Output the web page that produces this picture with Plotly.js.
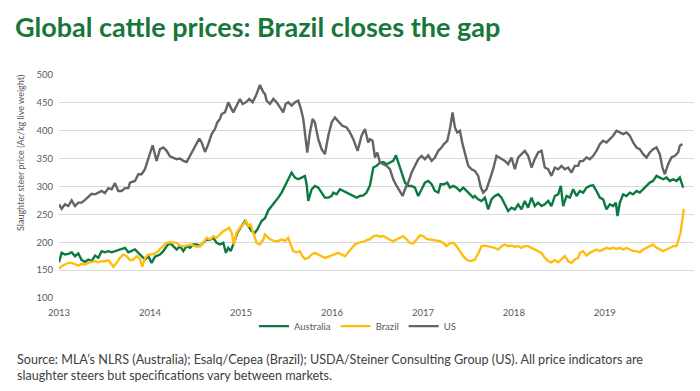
<!DOCTYPE html>
<html><head><meta charset="utf-8">
<script src="https://cdn.plot.ly/plotly-3.0.1.min.js"></script>
<style>html,body{margin:0;padding:0;background:#fff}#chart{width:700px;height:391px}</style>
</head><body><div id="chart"></div>
<script>
// time as decimal years
const usX = [2013.000,2013.029,2013.066,2013.103,2013.139,2013.176,2013.212,2013.249,2013.286,2013.322,2013.359,2013.396,2013.432,2013.469,2013.505,2013.542,2013.579,2013.615,2013.652,2013.689,2013.725,2013.762,2013.780,2013.835,2013.872,2013.908,2013.945,2013.982,2014.029,2014.073,
2014.110,2014.147,2014.183,2014.220,2014.257,2014.293,2014.330,2014.366,2014.403,2014.440,2014.476,2014.513,2014.542,2014.568,2014.605,2014.641,2014.678,2014.714,2014.740,2014.769,2014.788,2014.824,2014.861,2014.887,2014.916,2014.952,2014.989,2015.018,2015.055,2015.092,2015.128,2015.165,2015.209,2015.246,
2015.264,2015.282,2015.319,2015.356,2015.392,2015.429,2015.465,2015.491,2015.520,2015.557,2015.594,2015.630,2015.660,2015.685,2015.711,2015.729,2015.758,2015.788,2015.813,2015.850,2015.887,2015.923,2015.960,2015.997,2016.033,2016.070,2016.114,2016.161,2016.198,2016.235,2016.282,2016.326,2016.363,2016.399,
2016.418,2016.447,2016.473,2016.499,2016.528,2016.565,2016.601,2016.638,2016.674,2016.711,2016.748,2016.777,2016.803,2016.839,2016.876,2016.912,2016.949,2016.986,2017.022,2017.059,2017.096,2017.132,2017.169,2017.205,2017.231,2017.268,2017.297,2017.326,2017.352,2017.378,2017.407,2017.436,2017.462,2017.499,2017.535,
2017.571,2017.608,2017.637,2017.663,2017.699,2017.736,2017.772,2017.809,2017.835,2017.864,2017.901,2017.937,2017.974,2018.011,2018.047,2018.084,2018.120,2018.157,2018.194,2018.230,2018.267,2018.304,2018.340,2018.377,2018.413,2018.450,2018.487,2018.523,2018.560,2018.597,2018.633,2018.670,2018.707,
2018.725,2018.762,2018.798,2018.835,2018.872,2018.908,2018.945,2018.981,2019.018,2019.055,2019.091,2019.128,2019.165,2019.201,2019.238,2019.274,2019.311,2019.348,2019.384,2019.421,2019.458,2019.494,2019.531,2019.568,2019.604,2019.633,2019.659,2019.696,2019.732,2019.769,2019.806,2019.824,2019.853];
const usY = [268,260,268,265,275,265,271,271,276,281,287,286,289,292,288,297,295,306,292,292,297,297,307,310,322,322,331,349,374,346,
367,370,364,354,352,349,350,346,344,355,367,376,386,379,362,376,394,403,415,421,430,433,451,442,433,445,457,448,451,457,451,463,482,469,
466,454,448,457,451,442,433,448,451,445,451,454,439,421,391,361,397,421,415,385,367,358,391,415,424,418,409,406,397,385,364,391,403,379,
385,382,352,361,343,340,337,331,313,301,292,283,295,307,325,337,349,355,349,356,346,352,364,370,376,382,403,433,406,397,400,376,358,337,331,
328,319,298,289,295,313,331,355,352,349,346,340,352,331,352,358,364,355,334,349,361,364,334,331,319,334,331,337,331,334,325,337,337,
345,346,352,349,355,364,376,382,379,385,391,400,397,394,397,391,379,370,367,358,352,361,367,370,358,334,322,340,352,355,361,373,376];

const ausX = [2013.000,2013.029,2013.066,2013.103,2013.139,2013.176,2013.212,2013.249,2013.286,2013.322,2013.359,2013.396,2013.432,2013.469,2013.505,2013.542,2013.579,2013.615,2013.652,2013.689,2013.725,2013.762,2013.798,2013.835,2013.872,2013.908,2013.945,2013.982,2014.018,2014.055,
2014.110,2014.147,2014.183,2014.220,2014.257,2014.293,2014.330,2014.366,2014.403,2014.440,2014.476,2014.513,2014.549,2014.586,2014.623,2014.659,2014.696,2014.733,2014.769,2014.806,2014.835,2014.861,2014.887,2014.923,2014.960,2015.007,2015.044,2015.081,2015.117,2015.154,2015.180,2015.227,
2015.264,2015.300,2015.337,2015.374,2015.410,2015.447,2015.484,2015.520,2015.557,2015.594,2015.630,2015.667,2015.703,2015.722,2015.740,2015.777,2015.813,2015.850,2015.887,2015.923,2015.960,2015.997,2016.015,2016.051,2016.088,2016.125,2016.161,2016.198,2016.235,2016.271,2016.308,2016.345,2016.381,2016.418,
2016.455,2016.491,2016.528,2016.565,2016.601,2016.638,2016.674,2016.704,2016.729,2016.766,2016.803,2016.839,2016.876,2016.912,2016.949,2016.986,2017.022,2017.059,2017.096,2017.132,2017.169,2017.195,2017.231,2017.268,2017.297,2017.334,2017.370,2017.407,2017.444,2017.480,2017.517,2017.553,
2017.571,2017.608,2017.645,2017.681,2017.718,2017.754,2017.791,2017.828,2017.864,2017.901,2017.937,2017.974,2018.011,2018.047,2018.084,2018.120,2018.157,2018.194,2018.230,2018.267,2018.304,2018.340,2018.377,2018.413,2018.450,2018.487,2018.516,2018.542,2018.579,2018.615,2018.652,2018.689,
2018.725,2018.762,2018.798,2018.835,2018.872,2018.908,2018.945,2018.981,2019.018,2019.055,2019.091,2019.121,2019.139,2019.165,2019.201,2019.238,2019.274,2019.311,2019.348,2019.384,2019.421,2019.458,2019.494,2019.531,2019.568,2019.604,2019.641,2019.678,2019.714,2019.751,2019.788,2019.824,2019.842,2019.861];
const ausY = [164,181,178,179,182,175,180,168,165,169,166,176,172,184,182,184,182,184,185,187,190,182,184,187,181,175,169,175,163,174,
178,184,193,199,193,187,193,184,193,190,196,196,193,199,205,204,208,199,196,199,181,190,184,199,217,229,238,229,220,217,223,238,
243,257,265,271,280,289,301,313,325,316,313,316,319,304,274,295,301,298,289,280,280,283,289,286,295,292,289,286,283,280,283,284,289,302,
334,337,343,344,340,343,346,356,343,325,307,301,301,298,283,295,307,310,304,292,289,304,304,307,298,301,298,292,298,292,286,280,
283,277,274,280,259,277,283,286,280,268,256,262,259,268,259,274,262,280,265,271,265,268,274,265,283,286,301,265,283,280,295,283,
292,289,298,301,302,292,280,277,259,268,265,271,247,271,286,283,289,286,292,289,295,301,307,310,319,316,313,316,310,313,310,316,307,298];

const brX = [2013.000,2013.029,2013.066,2013.103,2013.139,2013.176,2013.212,2013.249,2013.286,2013.322,2013.359,2013.396,2013.432,2013.469,2013.505,2013.542,2013.579,2013.597,2013.634,2013.670,2013.707,2013.744,2013.780,2013.817,2013.853,2013.890,2013.916,2013.945,2013.982,2014.018,2014.055,2014.092,
2014.110,2014.147,2014.183,2014.220,2014.257,2014.293,2014.330,2014.366,2014.403,2014.440,2014.476,2014.513,2014.549,2014.586,2014.623,2014.659,2014.696,2014.733,2014.769,2014.806,2014.843,2014.872,2014.898,2014.923,2014.952,2014.989,2015.026,2015.055,2015.081,2015.106,2015.136,2015.172,2015.209,2015.246,
2015.264,2015.300,2015.337,2015.374,2015.410,2015.447,2015.484,2015.520,2015.539,2015.575,2015.612,2015.649,2015.674,2015.703,2015.740,2015.777,2015.813,2015.850,2015.887,2015.923,2015.960,2015.997,2016.033,2016.070,2016.106,2016.143,2016.180,2016.216,2016.253,2016.290,2016.326,2016.363,2016.399,
2016.418,2016.455,2016.491,2016.528,2016.565,2016.601,2016.638,2016.674,2016.711,2016.748,2016.784,2016.821,2016.857,2016.894,2016.931,2016.967,2017.004,2017.040,2017.077,2017.114,2017.150,2017.187,2017.224,2017.260,2017.297,2017.334,2017.370,2017.407,2017.444,2017.480,2017.517,2017.553,
2017.571,2017.608,2017.645,2017.681,2017.718,2017.754,2017.791,2017.828,2017.864,2017.901,2017.937,2017.974,2018.011,2018.047,2018.084,2018.120,2018.157,2018.194,2018.230,2018.267,2018.304,2018.340,2018.377,2018.413,2018.450,2018.487,2018.523,2018.560,2018.597,2018.633,2018.670,2018.707,
2018.725,2018.762,2018.798,2018.835,2018.872,2018.908,2018.945,2018.981,2019.018,2019.055,2019.091,2019.128,2019.165,2019.201,2019.238,2019.274,2019.311,2019.348,2019.384,2019.421,2019.458,2019.494,2019.531,2019.568,2019.604,2019.641,2019.678,2019.714,2019.751,2019.788,2019.806,2019.832,2019.853,2019.868];
const brY = [152,157,160,163,163,160,158,161,160,163,164,166,164,166,166,168,160,156,163,172,178,175,168,169,175,170,156,172,178,178,180,184,
188,193,199,200,199,199,194,193,194,196,194,192,193,199,208,205,211,208,214,220,223,226,217,196,217,226,232,238,229,232,217,199,196,205,
214,208,204,202,202,205,202,208,199,184,182,184,175,170,172,178,181,178,175,172,174,176,178,181,178,175,182,190,196,199,200,202,205,
205,211,212,210,211,208,204,202,205,208,211,205,199,198,205,212,211,206,205,204,204,202,199,193,198,199,193,184,175,169,166,168,
169,180,193,194,193,192,190,187,193,196,193,194,192,193,190,193,193,190,187,184,181,172,166,164,168,164,170,175,166,163,169,172,
181,184,176,181,184,187,184,187,190,188,190,188,190,187,190,187,184,184,182,187,190,193,196,190,187,184,187,190,193,193,202,217,241,260];

const yearTicks = [2013,2014,2015,2016,2017,2018,2019];
const yearLabels = ['2013','2014','2015','2016','2017','2018','2019'];
const yTicks = [100,150,200,250,300,350,400,450,500];

const tickFont = {family:'Lato, "Open Sans", sans-serif', size:9.5, color:'#595959'};
const traces = [
  {x: ausX, y: ausY, name:'Australia', type:'scatter', mode:'lines', line:{color:'#0b7a41', width:2.4}},
  {x: brX, y: brY, name:'Brazil', type:'scatter', mode:'lines', line:{color:'#ffbe0f', width:2.4}},
  {x: usX, y: usY, name:'US', type:'scatter', mode:'lines', line:{color:'#646464', width:2.4}}
];
const layout = {
  width:700, height:391,
  margin:{l:59, r:6, t:75, b:93},
  paper_bgcolor:'#fff', plot_bgcolor:'#fff',
  showlegend:true,
  title:{text:'<b>Global cattle prices: Brazil closes the gap</b>', x:15/700, xref:'container', xanchor:'left', y:1-28/391, yref:'container', yanchor:'middle',
    font:{family:'Lato, "Open Sans", sans-serif', size:27, color:'#17773b'}},
  xaxis:{range:[2013,2019.98], tickvals:yearTicks, ticktext:yearLabels, showgrid:false, zeroline:false, showline:false, ticks:'', tickfont:tickFont, ticklabelstandoff:7, fixedrange:true},
  yaxis:{range:[100,500], tickvals:yTicks, showgrid:true, gridcolor:'#d9d9d9', gridwidth:1, zeroline:false, showline:false, ticks:'', tickfont:tickFont, ticklabelstandoff:5},
  legend:{orientation:'h', x:0.47, xanchor:'center', y:-0.126, yanchor:'middle', font:{family:'Lato, "Open Sans", sans-serif', size:9.5, color:'#595959'}, bgcolor:'rgba(0,0,0,0)', itemwidth:30, tracegroupgap:0},
  annotations:[
    {text:'Slaughter steer price (Ac/kg live weight)', textangle:-90, xref:'paper', yref:'paper', x:(20-59)/635, y:(298-153)/223, xanchor:'center', yanchor:'middle', showarrow:false,
     font:{family:'Lato, "Open Sans", sans-serif', size:9, color:'#595959'}},
    {text:'Source: MLA’s NLRS (Australia); Esalq/Cepea (Brazil); USDA/Steiner Consulting Group (US). All price indicators are<br>slaughter steers but specifications vary between markets.', align:'left',
     xref:'paper', yref:'paper', x:(15-59)/635, y:(298-367)/223, xanchor:'left', yanchor:'middle', showarrow:false,
     font:{family:'Lato, "Open Sans", sans-serif', size:12.6, color:'#404040'}}
  ]
};
Plotly.newPlot('chart', traces, layout, {displayModeBar:false, staticPlot:true});
</script></body></html>
